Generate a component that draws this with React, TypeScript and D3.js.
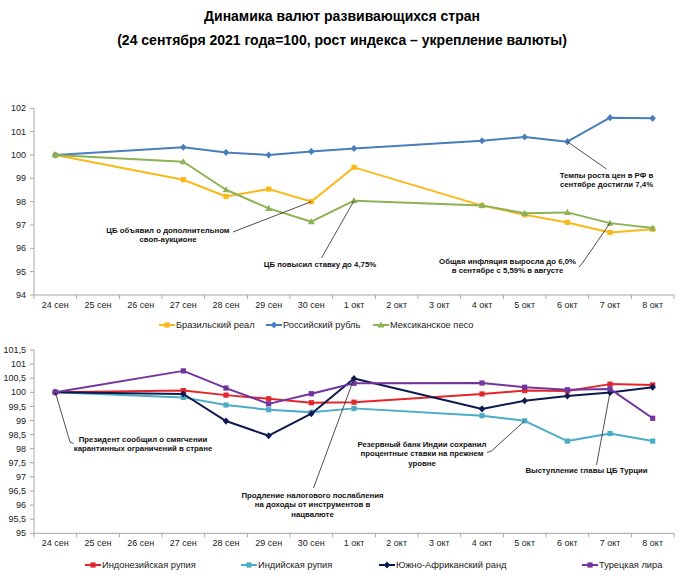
import React from 'react';
import * as d3 from 'd3';

const days = ['24 сен', '25 сен', '26 сен', '27 сен', '28 сен', '29 сен', '30 сен', '1 окт', '2 окт', '3 окт', '4 окт', '5 окт', '6 окт', '7 окт', '8 окт'];

type V = number | null;
const brazil: V[] = [100, null, null, 98.94, 98.22, 98.54, 98.0, 99.47, null, null, 97.83, 97.44, 97.11, 96.68, 96.82];
const russia: V[] = [100, null, null, 100.33, 100.11, 100.0, 100.15, 100.28, null, null, 100.61, 100.77, 100.57, 101.6, 101.57];
const mexico: V[] = [100, null, null, 99.71, 98.51, 97.71, 97.14, 98.04, null, null, 97.84, 97.5, 97.54, 97.08, 96.87];

const indonesia: V[] = [100, null, null, 100.06, 99.9, 99.77, 99.63, 99.65, null, null, 99.94, 100.06, 100.05, 100.29, 100.26];
const india: V[] = [100, null, null, 99.82, 99.55, 99.38, 99.29, 99.43, null, null, 99.17, 98.99, 98.27, 98.54, 98.27];
const safrica: V[] = [100, null, null, 99.94, 98.98, 98.46, 99.24, 100.49, null, null, 99.41, 99.7, 99.87, 99.99, 100.18];
const turkey: V[] = [100, null, null, 100.76, 100.15, 99.59, 99.95, 100.32, null, null, 100.33, 100.18, 100.09, 100.12, 99.08];

const topTicks = [94, 95, 96, 97, 98, 99, 100, 101, 102];
const bottomTicks = [95, 95.5, 96, 96.5, 97, 97.5, 98, 98.5, 99, 99.5, 100, 100.5, 101, 101.5];

const titleLines = ['Динамика валют развивающихся стран', '(24 сентября 2021 года=100, рост индекса – укрепление валюты)'];

type Marker = 'square' | 'diamond' | 'triangle';
interface Series { name: string; values: V[]; color: string; marker: Marker; }

const topSeries: Series[] = [
  { name: 'Бразильский реал', values: brazil, color: '#F9B91B', marker: 'square' },
  { name: 'Российский рубль', values: russia, color: '#4A7EBB', marker: 'diamond' },
  { name: 'Мексиканское песо', values: mexico, color: '#8DB255', marker: 'triangle' },
];
const bottomSeries: Series[] = [
  { name: 'Индонезийская рупия', values: indonesia, color: '#E3262B', marker: 'square' },
  { name: 'Индийская рупия', values: india, color: '#4BACC6', marker: 'square' },
  { name: 'Южно-Африканский ранд', values: safrica, color: '#0E1A4F', marker: 'diamond' },
  { name: 'Турецкая лира', values: turkey, color: '#7235A0', marker: 'square' },
];

const FONT = '"Liberation Sans", Arial, sans-serif';

const x = d3.scaleBand<string>().domain(days).range([34, 674]).padding(0);
const bw = x.bandwidth();
const cx = (d: string) => (x(d) as number) + bw / 2;

const yTop = d3.scaleLinear().domain([94, 102]).range([295, 108.3]);
const yBot = d3.scaleLinear().domain([95, 101.5]).range([533.3, 350]);

function MarkerShape({ m, px, py, color }: { m: Marker; px: number; py: number; color: string }) {
  if (m === 'square') return <rect x={px - 2.6} y={py - 2.6} width={5.2} height={5.2} fill={color} />;
  if (m === 'diamond') return <path d={`M${px},${py - 3.6}L${px + 3.2},${py}L${px},${py + 3.6}L${px - 3.2},${py}Z`} fill={color} />;
  return <path d={`M${px},${py - 3.6}L${px + 3.5},${py + 2.6}L${px - 3.5},${py + 2.6}Z`} fill={color} />;
}

function Panel({ series, y, ticks, fmt }: { series: Series[]; y: d3.ScaleLinear<number, number>; ticks: number[]; fmt: (v: number) => string }) {
  const [y0] = y.range();
  const line = d3.line<[string, number]>().x(d => cx(d[0])).y(d => y(d[1]));
  const bounds = [...days.map(d => x(d) as number), 674];
  return (
    <g>
      <line x1={34} x2={34} y1={y.range()[1]} y2={y0} stroke="#A6A6A6" strokeWidth={1} />
      <line x1={34} x2={674} y1={y0} y2={y0} stroke="#A6A6A6" strokeWidth={1} />
      {ticks.map(t => (
        <g key={t}>
          <line x1={30} x2={34} y1={y(t)} y2={y(t)} stroke="#A6A6A6" />
          <text x={26} y={y(t)} dy="0.35em" textAnchor="end" fontSize={9} fill="#222" fontFamily={FONT}>{fmt(t)}</text>
        </g>
      ))}
      {bounds.map((b, i) => (
        <line key={i} x1={b} x2={b} y1={y0} y2={y0 + 4} stroke="#A6A6A6" />
      ))}
      {days.map(d => (
        <text key={d} x={cx(d)} y={y0 + 13} textAnchor="middle" fontSize={9} fill="#222" fontFamily={FONT}>{d}</text>
      ))}
      {series.map(s => {
        const pts = days.map((d, i) => [d, s.values[i]] as [string, V]).filter(p => p[1] !== null) as [string, number][];
        return (
          <g key={s.name}>
            <path d={line(pts) || ''} fill="none" stroke={s.color} strokeWidth={2} strokeLinejoin="round" />
            {pts.map(p => <MarkerShape key={p[0]} m={s.marker} px={cx(p[0])} py={y(p[1])} color={s.color} />)}
          </g>
        );
      })}
    </g>
  );
}

function Legend({ series, xs, yPos }: { series: Series[]; xs: number[]; yPos: number }) {
  return (
    <g>
      {series.map((s, i) => (
        <g key={s.name}>
          <line x1={xs[i]} x2={xs[i] + 16} y1={yPos} y2={yPos} stroke={s.color} strokeWidth={2} />
          <MarkerShape m={s.marker} px={xs[i] + 8} py={yPos} color={s.color} />
          <text x={xs[i] + 17} y={yPos} dy="0.35em" fontSize={9.3} fill="#222" fontFamily={FONT}>{s.name}</text>
        </g>
      ))}
    </g>
  );
}

interface Note { lines: string[]; tx: number; ty: number; anchor: 'start' | 'middle' | 'end'; from: [number, number]; elbow?: [number, number]; day: string; val: number; }

function Notes({ notes, y }: { notes: Note[]; y: d3.ScaleLinear<number, number> }) {
  return (
    <g>
      {notes.map((n, i) => {
        const end: [number, number] = [cx(n.day), y(n.val)];
        const pts = [n.from, ...(n.elbow ? [n.elbow] : []), end];
        return (
          <g key={i}>
            <path d={d3.line()(pts) || ''} fill="none" stroke="#222" strokeWidth={0.8} />
            {n.lines.map((l, j) => (
              <text key={j} x={n.tx} y={n.ty + j * 9.3} textAnchor={n.anchor} fontSize={7.8} fontWeight="bold" fill="#111" fontFamily={FONT}>{l}</text>
            ))}
          </g>
        );
      })}
    </g>
  );
}

const topNotes: Note[] = [
  { lines: ['ЦБ объявил о дополнительном', 'своп-аукционе'], tx: 168, ty: 232.5, anchor: 'middle', from: [233, 232], day: '30 сен', val: 98.0 },
  { lines: ['ЦБ повысил ставку до 4,75%'], tx: 320, ty: 267, anchor: 'middle', from: [321.5, 258], day: '1 окт', val: 98.04 },
  { lines: ['Темпы роста цен в РФ в', 'сентябре достигли 7,4%'], tx: 606.5, ty: 178, anchor: 'middle', from: [606.5, 169], day: '6 окт', val: 100.57 },
  { lines: ['Общая инфляция выросла до 6,0%', 'в сентябре с 5,59% в августе'], tx: 507.5, ty: 264, anchor: 'middle', from: [579, 267], elbow: [582.5, 263], day: '7 окт', val: 97.08 },
];

const bottomNotes: Note[] = [
  { lines: ['Президент сообщил о смягчении', 'карантинных ограничений в стране'], tx: 143, ty: 442, anchor: 'middle', from: [73.5, 443.5], elbow: [70, 442], day: '24 сен', val: 100 },
  { lines: ['Продление налогового послабления', 'на доходы от инструментов в', 'нацвалюте'], tx: 312.5, ty: 498, anchor: 'middle', from: [313.5, 488], day: '1 окт', val: 100.49 },
  { lines: ['Резервный банк Индии сохранил', 'процентные ставки на прежнем', 'уровне'], tx: 422, ty: 447, anchor: 'middle', from: [487, 452.5], elbow: [491.5, 451], day: '5 окт', val: 98.99 },
  { lines: ['Выступление главы ЦБ Турции'], tx: 586.5, ty: 473, anchor: 'middle', from: [596.5, 465], day: '7 окт', val: 100.0 },
];

const fmtTop = (v: number) => String(v);
const fmtBot = (v: number) => String(v).replace('.', ',');

export default function App() {
  return (
    <svg width={696} height={585} viewBox="0 0 696 585" style={{ position: 'absolute', left: 0, top: 0, background: '#fff' }}>
      <rect width={696} height={585} fill="#fff" />
      {titleLines.map((t, i) => (
        <text key={i} x={342} y={21 + i * 23.5} textAnchor="middle" fontSize={14} fontWeight="bold" fill="#000" fontFamily={FONT}>{t}</text>
      ))}
      <Panel series={topSeries} y={yTop} ticks={topTicks} fmt={fmtTop} />
      <Notes notes={topNotes} y={yTop} />
      <Legend series={topSeries} xs={[159, 266, 373]} yPos={325} />
      <Panel series={bottomSeries} y={yBot} ticks={bottomTicks} fmt={fmtBot} />
      <Notes notes={bottomNotes} y={yBot} />
      <Legend series={bottomSeries} xs={[85, 241, 379, 582]} yPos={565} />
    </svg>
  );
}
